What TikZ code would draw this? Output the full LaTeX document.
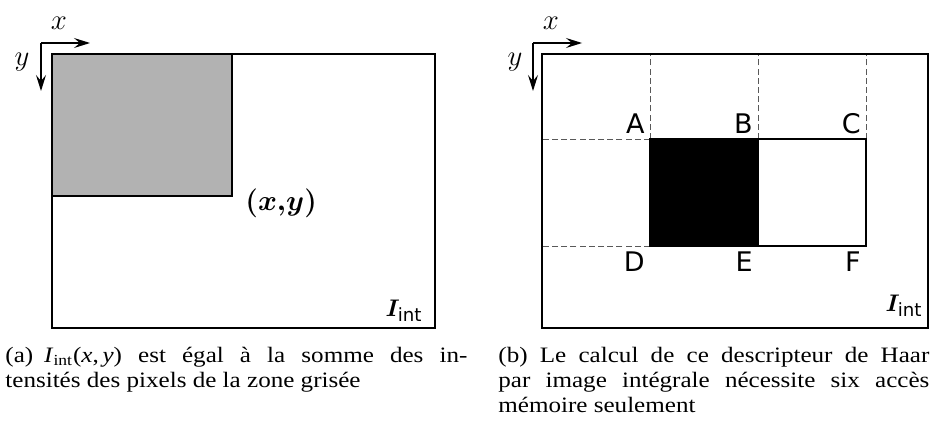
\documentclass[tikz,border=0pt]{standalone}
\usepackage{amsmath}
\usepackage{bm}
\usepackage{fontspec}
\setmainfont{Liberation Serif}
\setsansfont{DejaVu Sans}
\newfontfamily\capfont{Liberation Serif}[FakeStretch=1.14]
\usetikzlibrary{arrows.meta}

\definecolor{zonegray}{gray}{0.7}
\definecolor{guidegray}{gray}{0.35}

\begin{document}
\begin{tikzpicture}[x=0.5pt, y=-0.5pt,
    frame/.style={line width=1pt},
    axis/.style={line width=0.6pt, -{Stealth[length=8pt, width=5pt, inset=3pt]}},
    guide/.style={guidegray, line width=0.5pt, dash pattern=on 3pt off 1.6pt},
    axislabel/.style={font=\fontsize{15}{17}\selectfont, inner sep=0pt},
    corner/.style={font=\sffamily\fontsize{13.5}{15}\selectfont, inner sep=2.5pt},
    intlabel/.style={font=\fontsize{13}{15}\selectfont, inner sep=0pt, anchor=base east},
    caption/.style={font=\capfont\fontsize{11}{12.4}\selectfont, align=justify, inner sep=0pt, anchor=north west}]
    \useasboundingbox (0,0) rectangle (941,433);

    % (a) integral image
    \coordinate (a0) at (41,43);
    \draw[axis] (a0) -- ++(49,0);
    \draw[axis] (a0) -- ++(0,48);
    \node[axislabel] (xa) at (59,23) {$x$};
    \node[axislabel] (ya) at (22,62) {$y$};

    \coordinate (P) at (232,196);
    \draw[frame, fill=zonegray] (52,54) rectangle (P);
    \draw[frame] (52,54) rectangle (435,328);
    \node[anchor=west, inner sep=0pt, font=\fontsize{13.5}{15}\selectfont] (pxy) at (245,203) {$\bm{(x{,}y)}$};
    \node[intlabel] (inta) at (423,316) {$\bm{I}_{\textsf{int}}$};

    % (b) Haar feature
    \coordinate (b0) at (533,43);
    \draw[axis] (b0) -- ++(49,0);
    \draw[axis] (b0) -- ++(0,48);
    \node[axislabel] (xb) at (551,23) {$x$};
    \node[axislabel] (yb) at (515,62) {$y$};

    \coordinate (A) at (650,139);
    \coordinate (B) at (758,139);
    \coordinate (C) at (866,139);
    \coordinate (D) at (650,246);
    \coordinate (E) at (758,246);
    \coordinate (F) at (866,246);
    \foreach \p in {A,B,C} {\draw[guide] (\p) -- (\p |- 0,54);}
    \foreach \p in {A,D} {\draw[guide] (\p) -- (542,0 |- \p);}

    \draw[frame] (542,54) rectangle (928,328);
    \draw[frame, fill=black] (A) rectangle (E);
    \draw[frame] (B) rectangle (F);
    \foreach \p in {A,B,C} {\node[corner, above left] (l\p) at (\p) {\p};}
    \foreach \p in {D,E,F} {\node[corner, below left] (l\p) at (\p) {\p};}
    \node[intlabel] (intb) at (923,311) {$\bm{I}_{\textsf{int}}$};

    % captions
    \node[caption, text width=231pt] (capa) at (5,347)
        {(a)\enskip\textit{I}\textsubscript{int}(\textit{x},\,\textit{y}) est égal à la somme des in-\linebreak tensités des pixels de la zone grisée};
    \node[caption, text width=215.5pt] (capb) at (498,347)
        {(b) Le calcul de ce descripteur de Haar\linebreak par image intégrale nécessite six accès\linebreak mémoire seulement};
\end{tikzpicture}
\end{document}
